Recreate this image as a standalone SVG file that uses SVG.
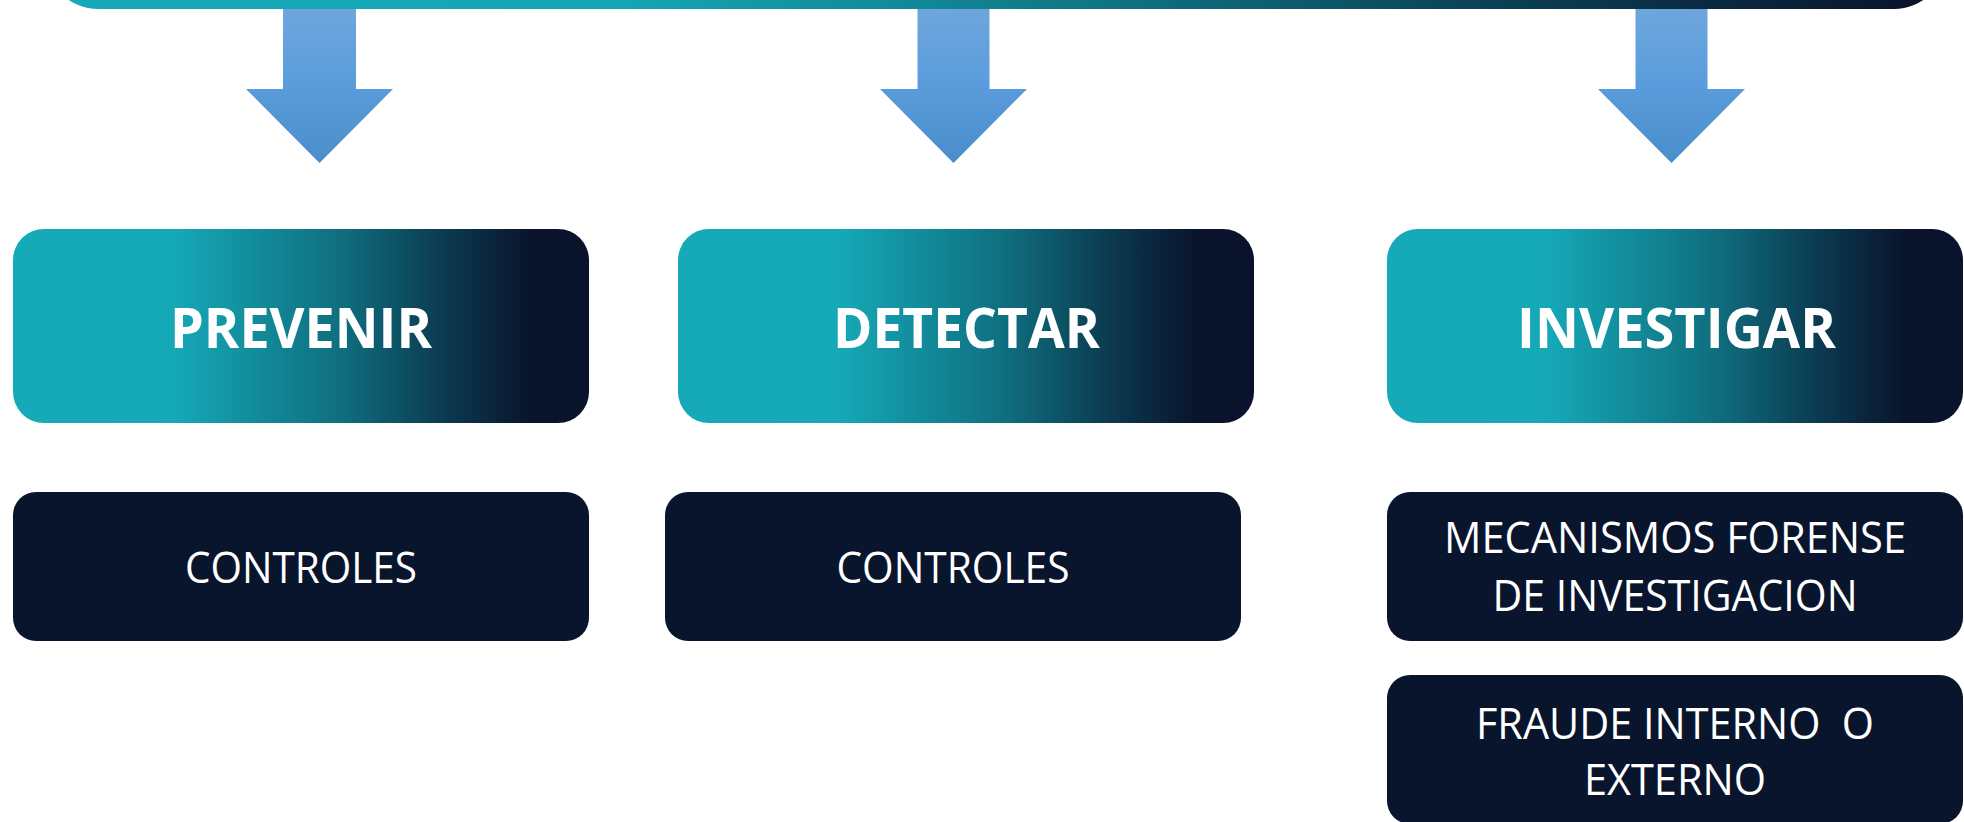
<svg xmlns="http://www.w3.org/2000/svg" width="1964" height="822" viewBox="0 0 1964 822">
  <defs>
    <linearGradient id="bannerGrad" gradientUnits="userSpaceOnUse" x1="46" y1="0" x2="1946" y2="0">
      <stop offset="0" stop-color="#16aab9"/>
      <stop offset="0.3" stop-color="#15a6b5"/>
      <stop offset="0.55" stop-color="#0f7685"/>
      <stop offset="0.75" stop-color="#0b4358"/>
      <stop offset="1" stop-color="#091129"/>
    </linearGradient>
    <linearGradient id="headGrad" x1="0" y1="0" x2="1" y2="0">
      <stop offset="0" stop-color="#16aab9"/>
      <stop offset="0.28" stop-color="#15a8b7"/>
      <stop offset="0.57" stop-color="#0f6e7e"/>
      <stop offset="0.75" stop-color="#0b3a50"/>
      <stop offset="0.9" stop-color="#09142c"/>
      <stop offset="1" stop-color="#09132b"/>
    </linearGradient>
    <linearGradient id="arrowGrad" x1="0" y1="0" x2="0" y2="1">
      <stop offset="0" stop-color="#70a7dc"/>
      <stop offset="0.5" stop-color="#5b9ddc"/>
      <stop offset="1" stop-color="#4a8dcb"/>
    </linearGradient>
    <style>
      .head { fill: url(#headGrad); }
      .body { fill: #09152d; }
      .arrow { fill: url(#arrowGrad); }
      .htxt { font-family: "Open Sans", "Liberation Sans", sans-serif; font-weight: 700; font-size: 56px; fill: #ffffff; text-anchor: middle; }
      .btxt { font-family: "Open Sans", "Liberation Sans", sans-serif; font-weight: 400; font-size: 43px; fill: #ffffff; text-anchor: middle; }
    </style>
  </defs>

  <g id="connectors">
    <polygon class="arrow" points="283,0 356,0 356,89 393,89 319.5,163 246,89 283,89"/>
    <polygon class="arrow" points="917.5,0 989.5,0 989.5,89 1027,89 953.5,163 880,89 917.5,89"/>
    <polygon class="arrow" points="1635.5,0 1707.5,0 1707.5,89 1745,89 1671.5,163 1598,89 1635.5,89"/>
  </g>

  <g id="banner">
    <rect x="46" y="-100" width="1900" height="109" rx="52" ry="52" fill="url(#bannerGrad)"/>
  </g>

  <g id="prevenir">
    <rect class="head" x="13" y="229" width="576" height="194" rx="31" ry="31"/>
    <text class="htxt" x="301" y="348" textLength="262" lengthAdjust="spacingAndGlyphs">PREVENIR</text>
  </g>
  <g id="detectar">
    <rect class="head" x="678" y="229" width="576" height="194" rx="31" ry="31"/>
    <text class="htxt" x="966.5" y="348" textLength="267" lengthAdjust="spacingAndGlyphs">DETECTAR</text>
  </g>
  <g id="investigar">
    <rect class="head" x="1387" y="229" width="576" height="194" rx="31" ry="31"/>
    <text class="htxt" x="1676.5" y="348" textLength="319" lengthAdjust="spacingAndGlyphs">INVESTIGAR</text>
  </g>

  <g id="controles-prevenir">
    <rect class="body" x="13" y="492" width="576" height="149" rx="23" ry="23"/>
    <text class="btxt" x="301" y="583" textLength="232" lengthAdjust="spacingAndGlyphs">CONTROLES</text>
  </g>
  <g id="controles-detectar">
    <rect class="body" x="665" y="492" width="576" height="149" rx="23" ry="23"/>
    <text class="btxt" x="953" y="583" textLength="233" lengthAdjust="spacingAndGlyphs">CONTROLES</text>
  </g>
  <g id="mecanismos">
    <rect class="body" x="1387" y="492" width="576" height="149" rx="23" ry="23"/>
    <text class="btxt" x="1675" y="553" textLength="462" lengthAdjust="spacingAndGlyphs">MECANISMOS FORENSE</text>
    <text class="btxt" x="1675" y="611" textLength="365" lengthAdjust="spacingAndGlyphs">DE INVESTIGACION</text>
  </g>
  <g id="fraude">
    <rect class="body" x="1387" y="675" width="576" height="149" rx="23" ry="23"/>
    <text class="btxt" x="1675" y="739" textLength="398" lengthAdjust="spacingAndGlyphs" xml:space="preserve">FRAUDE INTERNO  O</text>
    <text class="btxt" x="1675" y="795" textLength="182" lengthAdjust="spacingAndGlyphs">EXTERNO</text>
  </g>
</svg>
